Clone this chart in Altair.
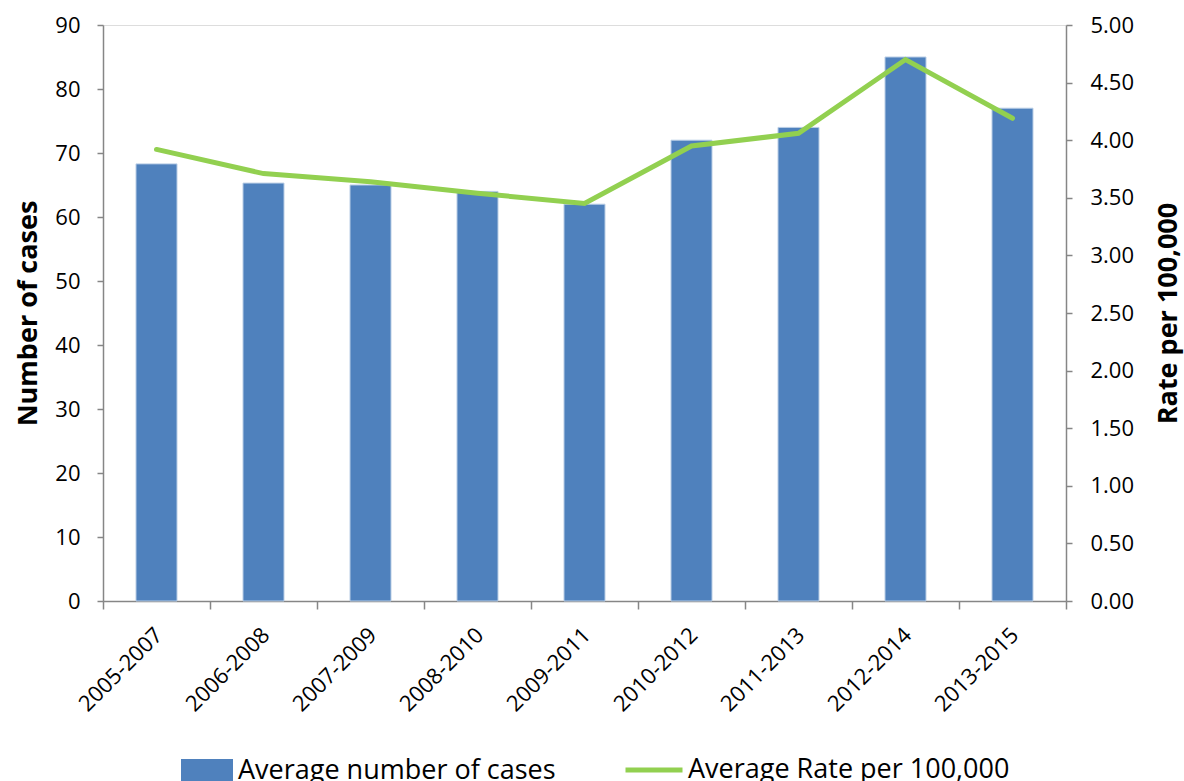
import altair as alt
import pandas as pd

periods = ["2005-2007", "2006-2008", "2007-2009", "2008-2010", "2009-2011",
           "2010-2012", "2011-2013", "2012-2014", "2013-2015"]
cases = [68.3, 65.3, 65.0, 64.0, 62.0, 72.0, 74.0, 85.0, 77.0]
rates = [3.92, 3.71, 3.64, 3.54, 3.45, 3.95, 4.06, 4.70, 4.19]

bar_name = "Average number of cases"
line_name = "Average Rate per 100,000"

df = pd.DataFrame({"period": periods, "cases": cases, "rate": rates,
                   "s1": bar_name, "s2": line_name})

FONT = "Open Sans"
AX = "#868686"

x = alt.X("period:N", sort=periods, title=None,
          scale=alt.Scale(paddingInner=0, paddingOuter=0),
          axis=alt.Axis(labelAngle=315, labelAlign="right", labelBaseline="top",
                        labelFontSize=22, labelFont=FONT, labelColor="black",
                        labelPadding=15, labelOffset=-5, tickBand="extent", tickSize=8,
                        domainColor=AX, tickColor=AX, domainWidth=1.5, tickWidth=1.5,
                        grid=False))

bars = alt.Chart(df).mark_bar(size=41, stroke="#B9CDE5", strokeWidth=1).encode(
    x=x,
    y=alt.Y("cases:Q", scale=alt.Scale(domain=[0, 90]),
            axis=alt.Axis(title="Number of cases", values=list(range(0, 91, 10)),
                          orient="left", grid=False, tickSize=6, labelPadding=17,
                          labelFontSize=22, labelFont=FONT, labelColor="black",
                          titleFontSize=27, titleFont=FONT, titleFontWeight="bold",
                          titleColor="black", titleX=-75, titleY=288,
                          titleAlign="center", titleBaseline="middle", titleAngle=270,
                          domainColor=AX, tickColor=AX, domainWidth=1.5, tickWidth=1.5)),
    color=alt.Color("s1:N", scale=alt.Scale(domain=[bar_name], range=["#4F81BD"]),
                    legend=alt.Legend(title=None, orient="none", legendX=78, legendY=734,
                                      symbolType="square", symbolSize=2704,
                                      labelFontSize=27, labelFont=FONT, labelColor="black",
                                      labelBaseline="bottom",
                                      labelLimit=600, labelOffset=5, symbolStrokeWidth=0)),
)

line = alt.Chart(df).mark_line(strokeWidth=5, strokeCap="round").encode(
    x=x,
    y=alt.Y("rate:Q", scale=alt.Scale(domain=[0, 5]),
            axis=alt.Axis(title="Rate per 100,000", values=[i * 0.5 for i in range(11)],
                          format=".2f", orient="right", grid=False, tickSize=6,
                          labelPadding=18, labelFontSize=22, labelFont=FONT,
                          labelColor="black", titleFontSize=27, titleFont=FONT,
                          titleFontWeight="bold", titleColor="black", titleAngle=270,
                          titleX=102, titleY=288, titleAlign="center",
                          titleBaseline="middle",
                          domainColor=AX, tickColor=AX, domainWidth=1.5, tickWidth=1.5)),
    stroke=alt.Stroke("s2:N", scale=alt.Scale(domain=[line_name], range=["#92D050"]),
                      legend=alt.Legend(title=None, orient="none", legendX=520, legendY=714,
                                        symbolType="stroke", symbolSize=3249,
                                        symbolStrokeWidth=5,
                                        labelFontSize=27, labelFont=FONT, labelColor="black",
                                        labelBaseline="middle",
                                        labelLimit=600, labelOffset=3)),
)

chart = alt.layer(bars, line).resolve_scale(
    y="independent", color="independent", stroke="independent"
).properties(
    width=963, height=576,
    autosize=alt.AutoSizeParams(type="none"),
    padding={"left": 103, "top": 25, "right": 118, "bottom": 180},
).configure_view(stroke=None).configure(background="white")

chart.save("out.html", embed_options={"renderer": "svg", "actions": False})
